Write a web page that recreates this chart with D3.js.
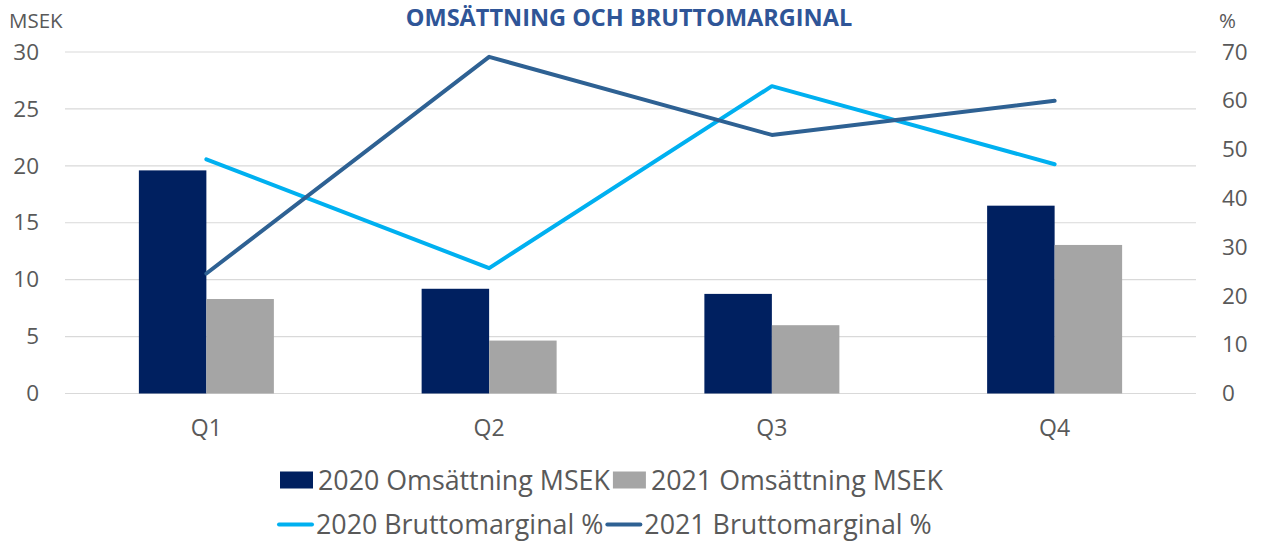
<!DOCTYPE html>
<html><head><meta charset="utf-8">
<script src="https://cdn.jsdelivr.net/npm/d3@7"></script>
<style>body{margin:0;background:#fff}svg{display:block}text{font-family:"Open Sans",sans-serif}</style>
</head><body><svg id="c" width="1261" height="541"></svg>
<script>
const categories = ["Q1","Q2","Q3","Q4"];
const oms2020 = [19.6, 9.2, 8.75, 16.5];
const oms2021 = [8.3, 4.65, 6.0, 13.05];
const bm2020 = [48.0, 25.7, 63.0, 47.0];
const bm2021 = [24.6, 69.0, 53.0, 60.0];
const leftTicks = [0,5,10,15,20,25,30];
const rightTicks = [0,10,20,30,40,50,60,70];

const FONT = '"Open Sans",sans-serif';
const svg = d3.select("#c");
const L = 65, R = 1196, T = 52, B = 393.5;
const x = d3.scaleBand().domain(categories).range([L, R]);
const yL = d3.scaleLinear().domain([0,30]).range([B, T]);
const yR = d3.scaleLinear().domain([0,70]).range([B, T]);
const bw = 67.5;

// grid
svg.append("g").selectAll("line").data(leftTicks).join("line")
  .attr("x1", L).attr("x2", R).attr("y1", d=>yL(d)).attr("y2", d=>yL(d))
  .attr("stroke", "#d9d9d9").attr("stroke-width", 1.2);

// left axis labels
const axL = d3.axisLeft(yL).tickValues(leftTicks).tickSize(0).tickPadding(0);
const gL = svg.append("g").attr("transform", `translate(39,0)`).call(axL);
gL.select(".domain").remove();
gL.selectAll("text").attr("font-size", 22.5).attr("fill", "#595959").attr("font-family",FONT);

const axR = d3.axisRight(yR).tickValues(rightTicks).tickSize(0).tickPadding(0);
const gR = svg.append("g").attr("transform", `translate(1222,0)`).call(axR);
gR.select(".domain").remove();
gR.selectAll("text").attr("font-size", 22.5).attr("fill", "#595959").attr("font-family",FONT);

// bars
const c = d => x(d) + x.bandwidth()/2;
svg.append("g").selectAll("rect").data(categories).join("rect")
  .attr("x", d => c(d) - bw).attr("width", bw)
  .attr("y", (d,i) => yL(oms2020[i])).attr("height", (d,i) => B - yL(oms2020[i]))
  .attr("fill", "#002060");
svg.append("g").selectAll("rect").data(categories).join("rect")
  .attr("x", d => c(d)).attr("width", bw)
  .attr("y", (d,i) => yL(oms2021[i])).attr("height", (d,i) => B - yL(oms2021[i]))
  .attr("fill", "#a5a5a5");

// lines
const line = d3.line().x(d => c(d[0])).y(d => yR(d[1]));
svg.append("path").datum(categories.map((k,i)=>[k,bm2020[i]])).attr("d", line)
  .attr("fill","none").attr("stroke","#00b0f0").attr("stroke-width",4).attr("stroke-linejoin","round").attr("stroke-linecap","round");
svg.append("path").datum(categories.map((k,i)=>[k,bm2021[i]])).attr("d", line)
  .attr("fill","none").attr("stroke","#2e6193").attr("stroke-width",4).attr("stroke-linejoin","round").attr("stroke-linecap","round");

// category labels
const axB = d3.axisBottom(x).tickSize(0).tickPadding(0);
const gB = svg.append("g").attr("transform", `translate(0,428)`).call(axB);
gB.select(".domain").remove();
gB.selectAll("text").attr("font-size", 23).attr("fill", "#595959").attr("y",0).attr("dy","0.36em").attr("font-family",FONT);

// titles
svg.append("text").attr("x", 629).attr("y", 25.5).attr("text-anchor","middle")
  .attr("font-size", 23.5).attr("font-weight","bold").attr("fill","#2f5597").text("OMSÄTTNING OCH BRUTTOMARGINAL");
svg.append("text").attr("x", 9).attr("y", 28).attr("font-size", 20.5).attr("fill","#595959").text("MSEK");
svg.append("text").attr("x", 1219).attr("y", 28).attr("font-size", 20.5).attr("fill","#595959").text("%");

// legend
const legRows = [
  [{t:"2020 Omsättning MSEK", type:"rect", col:"#002060"},{t:"2021 Omsättning MSEK", type:"rect", col:"#a5a5a5"}],
  [{t:"2020 Bruttomarginal %", type:"line", col:"#00b0f0"},{t:"2021 Bruttomarginal %", type:"line", col:"#2e6193"}]
];
const rowY = [480, 524.5];
const starts = [280, 278];
legRows.forEach((row, ri) => {
  const g = svg.append("g");
  let cx = starts[ri];
  row.forEach((it, k) => {
    if (it.type === "rect") {
      g.append("rect").attr("x", cx).attr("y", rowY[ri]-8.5).attr("width", 33).attr("height", 17).attr("fill", it.col);
    } else {
      g.append("line").attr("x1", cx+1).attr("x2", cx+34).attr("y1", rowY[ri]).attr("y2", rowY[ri]).attr("stroke", it.col).attr("stroke-width", 4).attr("stroke-linecap","round");
    }
    cx += 38;
    const t = g.append("text").attr("x", cx).attr("y", rowY[ri]).attr("dy","0.36em").attr("font-size", 26.8).attr("fill","#595959").text(it.t);
    cx += t.node().getComputedTextLength() + 3;
  });
});
</script></body></html>
